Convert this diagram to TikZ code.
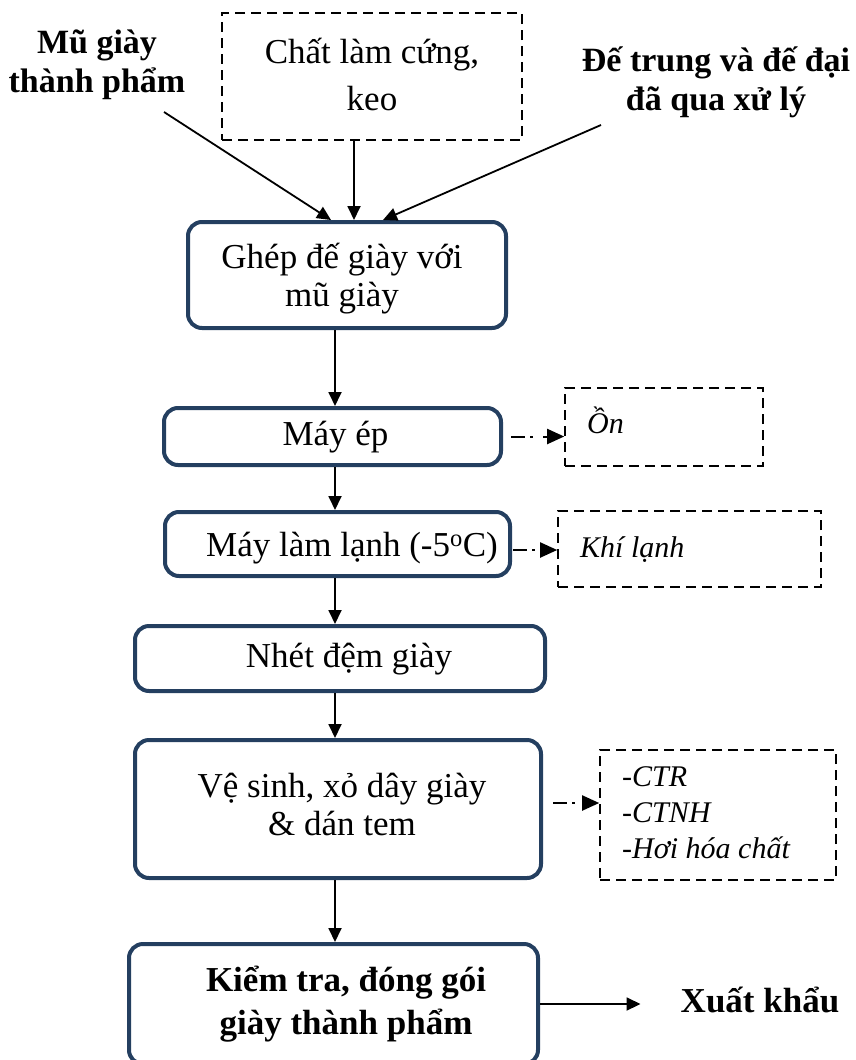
\documentclass[tikz,border=0pt]{standalone}
\usepackage{fontspec}
\setmainfont{Liberation Serif}
\usetikzlibrary{arrows.meta}
\definecolor{frame}{HTML}{243F60}

\begin{document}
\begin{tikzpicture}[x=1pt,y=-1pt,
  proc/.style={draw=frame, line width=4pt, rounded corners=14pt, inner sep=0pt},
  note/.style={draw=black, line width=1.6pt, dash pattern=on 10pt off 6pt, inner sep=0pt},
  reg/.style={font=\fontsize{35}{38}\selectfont, align=center, inner sep=0pt},
  ital/.style={font=\fontsize{30}{36}\selectfont\itshape, align=left, inner sep=0pt},
  bold/.style={font=\fontsize{34}{39}\selectfont\bfseries, align=center, inner sep=0pt},
  arr/.style={-{Triangle[length=14pt,width=13pt]}, line width=1.8pt},
  dd/.style={-{Triangle[length=17pt,width=15pt]}, line width=2pt,
             dash pattern=on 14pt off 5pt on 3pt off 10pt}
]
\useasboundingbox (0,0) rectangle (855,1060);

% inputs (multi-line texts are placed by the baseline of their last line)
\node[note, minimum width=300, minimum height=127] (chat) at (372,76.5) {};
\node[reg, font=\fontsize{35}{47}\selectfont, anchor=base] (chatt) at (372,110) {Chất làm cứng,\\keo};
\node[bold, anchor=base] (mu) at (97,92) {Mũ giày\\thành phẩm};
\node[bold, anchor=base] (de) at (716,110) {Đế trung và đế đại\\đã qua xử lý};

% process chain
\node[proc, minimum width=318, minimum height=106] (g1) at (347,275) {};
\node[reg, anchor=base] (g1t) at (342,306) {Ghép đế giày với\\mũ giày};

\node[proc, minimum width=337, minimum height=57] (m) at (332.5,436.5) {};
\node[reg, anchor=base] (mt) at (335.5,445) {Máy ép};

\node[proc, minimum width=345, minimum height=64] (l) at (337.5,544) {};
\node[reg, anchor=base] (lt) at (352,556) {Máy làm lạnh (-5\textsuperscript{o}C)};

\node[proc, minimum width=410, minimum height=65] (n) at (340,658.5) {};
\node[reg, anchor=base] (nt) at (349,667) {Nhét đệm giày};

\node[proc, minimum width=406, minimum height=138] (v) at (338,809) {};
\node[reg, anchor=base] (vt) at (342,835) {Vệ sinh, xỏ dây giày\\\& dán tem};

\node[proc, minimum width=409, minimum height=120] (k) at (333.5,1004) {};
\node[bold, font=\fontsize{35}{43}\selectfont\bfseries, anchor=base] (kt) at (346,1034) {Kiểm tra, đóng gói\\giày thành phẩm};

\node[bold, font=\fontsize{35}{40}\selectfont\bfseries, anchor=base] (xk) at (760,1012) {Xuất khẩu};

% emissions
\node[note, minimum width=198, minimum height=78] (on) at (664,427) {};
\node[ital, anchor=base west] (ont) at (587,433) {Ồn};

\node[note, minimum width=263, minimum height=76] (kl) at (689.5,549) {};
\node[ital, anchor=base west] (klt) at (580,557) {Khí lạnh};

\node[note, minimum width=236, minimum height=130] (ct) at (718,815) {};
\node[ital, anchor=base west] (ctt) at (622,858) {-CTR\\-CTNH\\-Hơi hóa chất};

% main spine
\coordinate (spine) at (335,0);

% connectors
\draw[arr] ([shift={(67,20)}]mu.base) -- ([xshift=-16]g1.north);
\draw[arr] (chat.south -| 354,0) -- (g1.north -| 354,0);
\draw[arr] ([shift={(-115,15)}]de.base) -- ([xshift=36]g1.north);

\draw[arr] (g1.south -| spine) -- (m.north -| spine);
\draw[arr] (m.south -| spine) -- (l.north -| spine);
\draw[arr] (l.south -| spine) -- (n.north -| spine);
\draw[arr] (n.south -| spine) -- (v.north -| spine);
\draw[arr] (v.south -| spine) -- (k.north -| spine);
\draw[arr] (k.east) -- ([xshift=-40]xk.west |- k.east);

\draw[dd] ([xshift=8]m.east) -- (on.west |- m.east);
\draw[dd] ([xshift=1]l.east |- 0,550) -- (kl.west |- 0,550);
\draw[dd] ([xshift=10]v.east |- 0,803) -- (ct.west |- 0,803);
\end{tikzpicture}
\end{document}
